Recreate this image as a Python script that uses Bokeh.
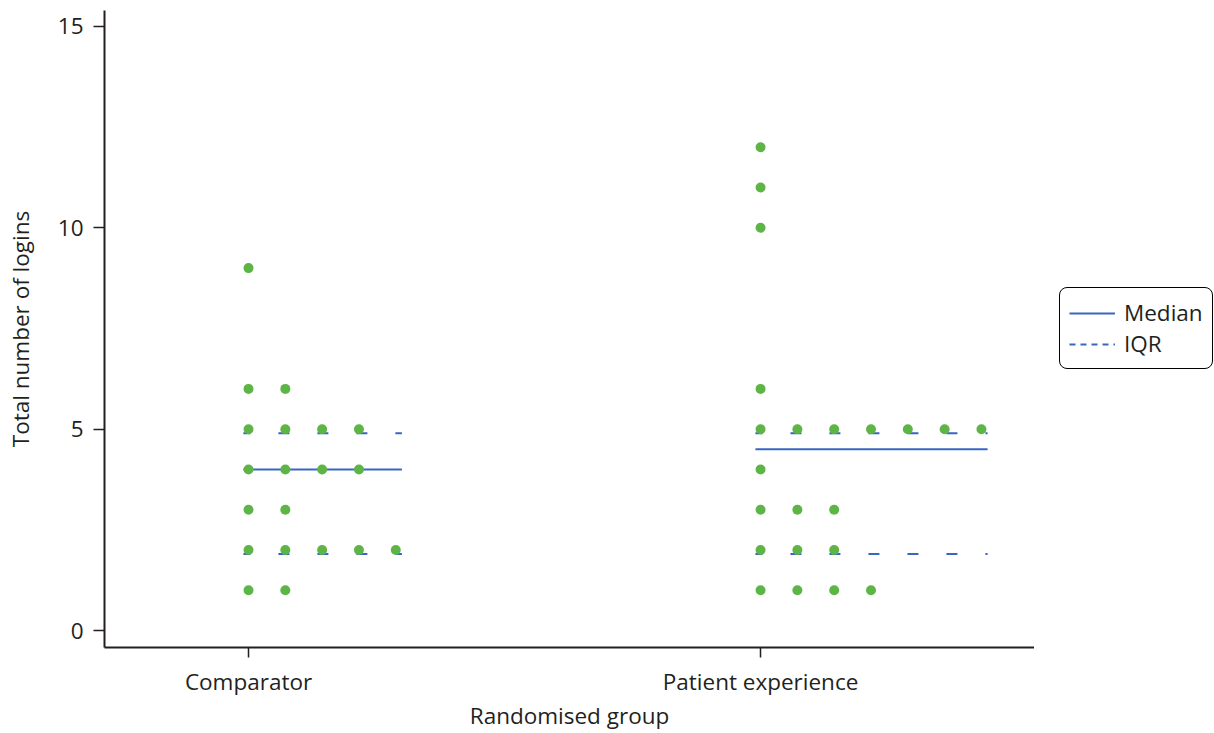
from collections import Counter
from bokeh.plotting import figure
from bokeh.layouts import row
from bokeh.models import Legend, LegendItem, FixedTicker, Range1d
from bokeh.embed import file_html
from bokeh.resources import INLINE

# ---- data ----
groups = ["Comparator", "Patient experience"]
group_pos = [1, 2]
comparator_logins = [1, 1, 2, 2, 2, 2, 2, 3, 3, 4, 4, 4, 4, 5, 5, 5, 5, 6, 6, 9]
patient_logins = [1, 1, 1, 1, 2, 2, 2, 3, 3, 3, 4, 5, 5, 5, 5, 5, 5, 5, 6, 10, 11, 12]
medians = [4.0, 4.5]
iqr_low = [1.9, 1.9]
iqr_high = [4.9, 4.9]
y_ticks = [0, 5, 10, 15]

GREEN = "#5db546"
BLUE = "#3a66c0"
AXIS = "#231f20"
FONT = "Open Sans"
FS = "22.5px"

step = 0.0719  # horizontal spacing between stacked dots (data units)

xs, ys = [], []
line_x0, line_x1 = [], []
for pos, vals in zip(group_pos, [comparator_logins, patient_logins]):
    cnt = Counter(vals)
    for v, n in cnt.items():
        for i in range(n):
            xs.append(pos + i * step)
            ys.append(v)
    maxn = max(cnt.values())
    line_x0.append(pos - 0.01)
    line_x1.append(pos + (maxn - 1) * step + 0.012)

p = figure(width=1034, height=733, output_backend="svg", toolbar_location=None,
           x_range=Range1d(0.71875, 2.535), y_range=Range1d(-0.422, 15.397),
           min_border_left=104, min_border_right=0, min_border_top=10, min_border_bottom=86)
p.outline_line_color = None
p.grid.grid_line_color = None
p.background_fill_color = "white"

# median and IQR lines
p.segment(x0=line_x0, y0=medians, x1=line_x1, y1=medians, line_color=BLUE, line_width=2)
p.segment(x0=line_x0, y0=iqr_high, x1=line_x1, y1=iqr_high, line_color=BLUE, line_width=2,
          line_dash="11 28", line_dash_offset=4)
p.segment(x0=line_x0, y0=iqr_low, x1=line_x1, y1=iqr_low, line_color=BLUE, line_width=2,
          line_dash="11 28", line_dash_offset=4)

p.scatter(x=xs, y=ys, size=10, fill_color=GREEN, line_color=None)

# axes
for ax in (p.xaxis[0], p.yaxis[0]):
    ax.axis_line_color = AXIS
    ax.axis_line_width = 2
    ax.major_tick_line_color = AXIS
    ax.major_tick_line_width = 1.5
    ax.major_tick_in = 0
    ax.minor_tick_line_color = None
    ax.major_label_text_font = FONT
    ax.major_label_text_font_size = FS
    ax.major_label_text_color = AXIS
    ax.axis_label_text_font = FONT
    ax.axis_label_text_font_size = FS
    ax.axis_label_text_font_style = "normal"
    ax.axis_label_text_color = AXIS

p.xaxis.ticker = FixedTicker(ticks=group_pos)
p.xaxis.major_label_overrides = {pos: g for pos, g in zip(group_pos, groups)}
p.xaxis.axis_label = "Randomised group"
p.xaxis.major_tick_out = 10
p.xaxis.major_label_standoff = 8
p.xaxis.axis_label_standoff = 0

p.yaxis.ticker = FixedTicker(ticks=y_ticks)
p.yaxis.axis_label = "Total number of logins"
p.yaxis.major_tick_out = 11
p.yaxis.major_label_standoff = 10
p.yaxis.axis_label_standoff = 19

# ---- legend panel (separate blank figure to the right) ----
q = figure(width=180, height=733, output_backend="svg", toolbar_location=None,
           x_axis_type=None, y_axis_type=None, x_range=Range1d(0, 1), y_range=Range1d(0, 1),
           min_border=0)
q.outline_line_color = None
q.grid.grid_line_color = None
nan = float("nan")
r_med = q.line(x=[nan, nan], y=[nan, nan], line_color=BLUE, line_width=2)
r_iqr = q.line(x=[nan, nan], y=[nan, nan], line_color=BLUE, line_width=2, line_dash="6 5")
legend = Legend(items=[LegendItem(label="Median", renderers=[r_med]),
                       LegendItem(label="IQR", renderers=[r_iqr])],
                location=(25, 278))
legend.margin = 0
legend.padding = 9
legend.spacing = 0
legend.glyph_width = 46
legend.glyph_height = 26
legend.label_standoff = 9
legend.label_height = 26
legend.label_width = 78
legend.label_text_font = FONT
legend.label_text_font_size = FS
legend.label_text_color = AXIS
legend.border_line_color = "black"
legend.border_line_alpha = 1
legend.border_line_width = 1.5
legend.background_fill_color = "white"
legend.background_fill_alpha = 1
try:
    legend.border_radius = 8
except Exception:
    pass
q.add_layout(legend)

layout = row(p, q)
open("out.html", "w").write(file_html(layout, INLINE))
